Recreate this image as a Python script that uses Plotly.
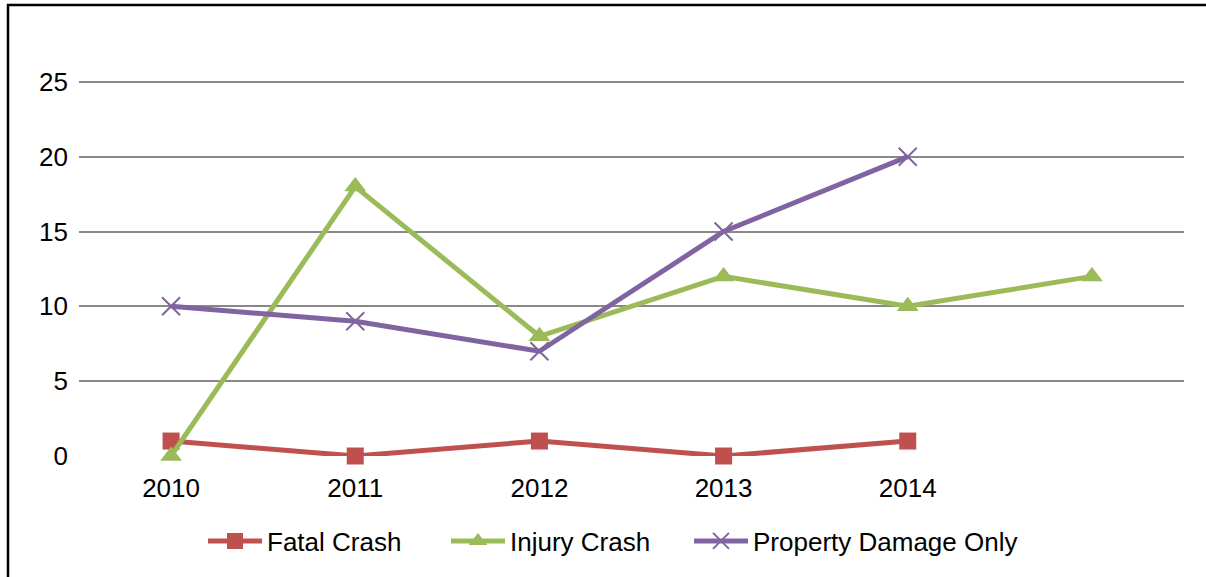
import plotly.graph_objects as go

# Crash counts by year and severity
years = ["2010", "2011", "2012", "2013", "2014"]
fatal_crash = [1, 0, 1, 0, 1]
injury_crash = [0, 18, 8, 12, 10, 12]
property_damage_only = [10, 9, 7, 15, 20]

y_ticks = [0, 5, 10, 15, 20, 25]

W, H = 1206, 577
L, R, T, B = 79, 22, 7, 121
plot_w = W - L - R
plot_h = H - T - B

FONT = "Liberation Sans, Arial, sans-serif"


def px_x(p):
    return (p - L) / plot_w


def px_y(p):
    return (H - B - p) / plot_h


fig = go.Figure()

series = [
    ("Fatal Crash", fatal_crash, "#C0504D", dict(symbol="square", size=17), "legend", 203),
    ("Injury Crash", injury_crash, "#9BBB59", dict(symbol="triangle-up", size=19), "legend2", 446),
    ("Property Damage Only", property_damage_only, "#8064A2",
     dict(symbol="x-thin", size=18, line=dict(width=2, color="#8064A2")), "legend3", 689),
]
legend_boxes = {}
for name, vals, color, marker, leg, left in series:
    fig.add_trace(go.Scatter(
        x=list(range(len(vals))), y=vals, name=name, mode="lines+markers",
        line=dict(color=color, width=5),
        marker=dict(color=color, **marker),
        cliponaxis=False, legend=leg,
    ))
    legend_boxes[leg] = dict(
        orientation="h", x=px_x(left), xanchor="left", y=px_y(541), yanchor="middle",
        font=dict(size=26), itemwidth=54, bgcolor="rgba(0,0,0,0)",
    )

# outer frame of the chart box
fig.add_shape(type="rect", xref="paper", yref="paper",
              x0=px_x(8), x1=px_x(1220), y0=px_y(5), y1=px_y(600),
              line=dict(color="black", width=2.5), layer="above")

# caption above the box
fig.add_annotation(
    text="<b>Figure 2: Crashes at Study Intersection (2010-2014)</b>",
    xref="paper", yref="paper", x=px_x(10), y=px_y(-1),
    xanchor="left", yanchor="bottom", showarrow=False,
    font=dict(family=FONT, size=25, color="black"),
)

fig.update_layout(
    width=W, height=H,
    margin=dict(l=L, r=R, t=T, b=B),
    paper_bgcolor="white", plot_bgcolor="white",
    font=dict(family=FONT, size=26, color="black"),
    showlegend=True,
    **legend_boxes,
    xaxis=dict(range=[-0.5, 5.5], tickvals=list(range(len(years))), ticktext=years,
               showgrid=False, zeroline=False, showline=False, ticks="",
               ticklabelstandoff=14, fixedrange=True),
    yaxis=dict(range=[0, 30], tickvals=y_ticks, showgrid=True, gridcolor="#888888",
               gridwidth=2, zeroline=False, showline=False, ticks="",
               ticklabelstandoff=10, fixedrange=True),
)

fig.write_html("out.html")
